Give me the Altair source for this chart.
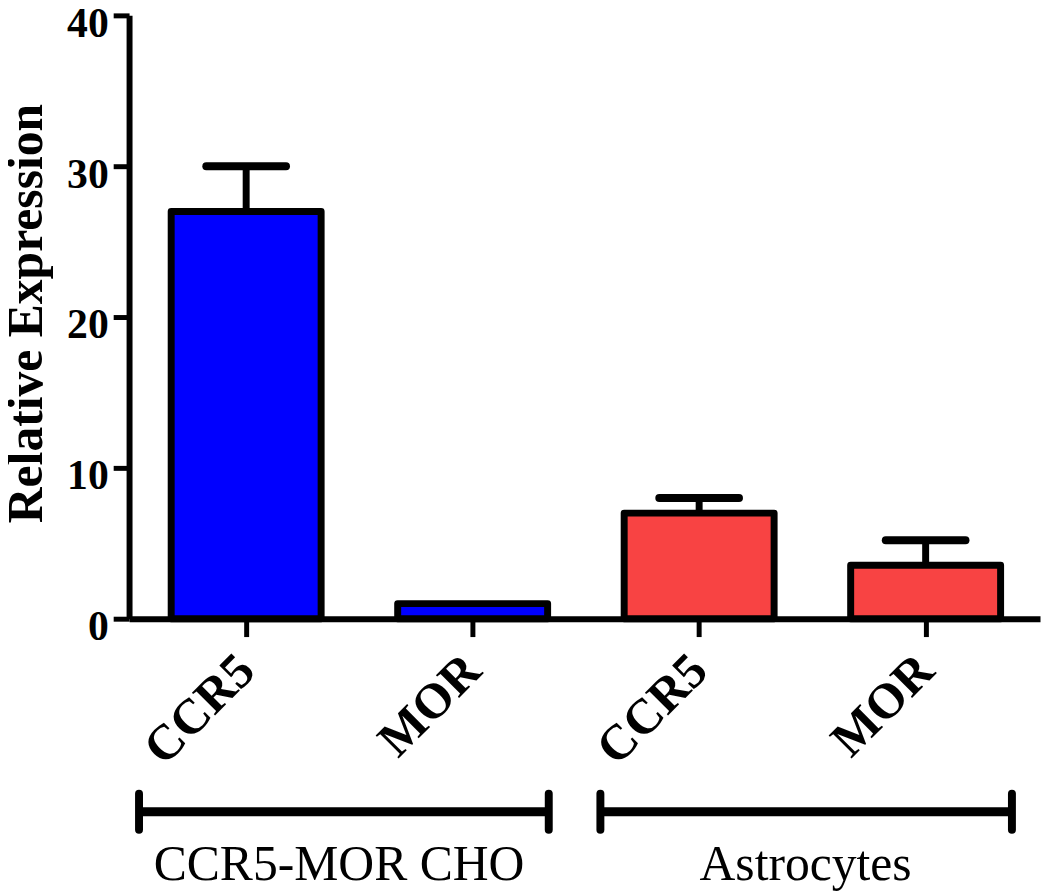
import json
import altair as alt
import pandas as pd

# ---- data ----
categories = ["CCR5", "MOR", "CCR5", "MOR"]
groups = ["CCR5-MOR CHO", "CCR5-MOR CHO", "Astrocytes", "Astrocytes"]
means = [27.0, 1.0, 7.0, 3.55]
errors = [3.0, 0.0, 1.0, 1.65]
group_names = ["CCR5-MOR CHO", "Astrocytes"]
group_colors = ["#0000FF", "#F84343"]
y_ticks = [0, 10, 20, 30, 40]

# bracket annotation extents (in category-index units) and their label positions
bracket_start = [-0.473, 1.564]
bracket_end = [1.336, 3.381]
bracket_label_x = [0.41, 2.47]

FONT = "Liberation Serif"

df = pd.DataFrame({
    "idx": list(range(len(categories))),
    "cat": categories,
    "group": groups,
    "mean": means,
    "err": errors,
})

brackets = pd.DataFrame({
    "group": group_names,
    "x0": bracket_start,
    "x1": bracket_end,
    "lx": bracket_label_x,
})

x_scale = alt.Scale(domain=[-0.517, 3.505], nice=False, zero=False)
y_scale = alt.Scale(domain=[0, 40], nice=False)
color_scale = alt.Scale(domain=group_names, range=group_colors)

label_expr = json.dumps(categories) + "[datum.value]"

x_axis = alt.Axis(
    values=list(range(len(categories))),
    labelExpr=label_expr,
    title=None,
    grid=False,
    labelAngle=-45,
    labelAlign="right",
    labelBaseline="middle",
    labelFont=FONT,
    labelFontWeight="bold",
    labelFontSize=50,
    labelColor="black",
    labelPadding=26,
    tickSize=18,
    tickWidth=5,
    tickColor="black",
    domainWidth=6,
    domainColor="black",
)

y_axis = alt.Axis(
    values=y_ticks,
    title="Relative Expression",
    grid=False,
    labelFont=FONT,
    labelFontWeight="bold",
    labelFontSize=42,
    labelColor="black",
    labelPadding=5,
    labelOffset=8,
    tickSize=16,
    tickWidth=5,
    tickColor="black",
    domainWidth=6,
    domainColor="black",
    titleFont=FONT,
    titleFontWeight="bold",
    titleFontSize=50,
    titleColor="black",
    titleAngle=-90,
    titleAlign="center",
    titleBaseline="middle",
    titleX=-103,
    titleY=300,
)

base = alt.Chart(df)

bars = base.transform_calculate(
    x0="datum.idx - 0.331", x1="datum.idx + 0.331"
).mark_bar(stroke="black", strokeWidth=7, strokeJoin="round").encode(
    x=alt.X("x0:Q", scale=x_scale, axis=x_axis),
    x2="x1:Q",
    y=alt.Y("mean:Q", scale=y_scale, axis=y_axis),
    y2=alt.datum(0),
    color=alt.Color("group:N", scale=color_scale, legend=None),
)

err_df = base.transform_filter("datum.err > 0").transform_calculate(
    top="datum.mean + datum.err",
    cx0="datum.idx - 0.176",
    cx1="datum.idx + 0.176",
)

stems = err_df.mark_rule(color="black", strokeWidth=7).encode(
    x=alt.X("idx:Q", scale=x_scale),
    y=alt.Y("mean:Q", scale=y_scale),
    y2="top:Q",
)

caps = err_df.mark_rule(color="black", strokeWidth=8, strokeCap="round").encode(
    x=alt.X("cx0:Q", scale=x_scale),
    x2="cx1:Q",
    y=alt.Y("top:Q", scale=y_scale),
)

bchart = alt.Chart(brackets)

bracket_lines = bchart.transform_calculate(yb="-12.8").mark_rule(
    color="black", strokeWidth=9
).encode(
    x=alt.X("x0:Q", scale=x_scale),
    x2="x1:Q",
    y=alt.Y("yb:Q", scale=y_scale),
)

bracket_caps = bchart.transform_fold(["x0", "x1"], as_=["end", "xe"]).transform_calculate(
    ya="-11.6", yb="-14.0"
).mark_rule(color="black", strokeWidth=8, strokeCap="round").encode(
    x=alt.X("xe:Q", scale=x_scale),
    y=alt.Y("ya:Q", scale=y_scale),
    y2="yb:Q",
)

bracket_text = bchart.transform_calculate(yt="-17.3").mark_text(
    font=FONT, fontSize=50, color="black", align="center", baseline="alphabetic"
).encode(
    x=alt.X("lx:Q", scale=x_scale),
    y=alt.Y("yt:Q", scale=y_scale),
    text="group:N",
)

chart = alt.layer(
    bars, stems, caps, bracket_lines, bracket_caps, bracket_text
).properties(
    width=918,
    height=608,
    autosize=alt.AutoSizeParams(type="none"),
    padding={"left": 122, "top": 4, "right": 2, "bottom": 274},
    background="white",
).configure_view(stroke=None)

chart.save("out.html", embed_options={"renderer": "svg", "actions": False})
